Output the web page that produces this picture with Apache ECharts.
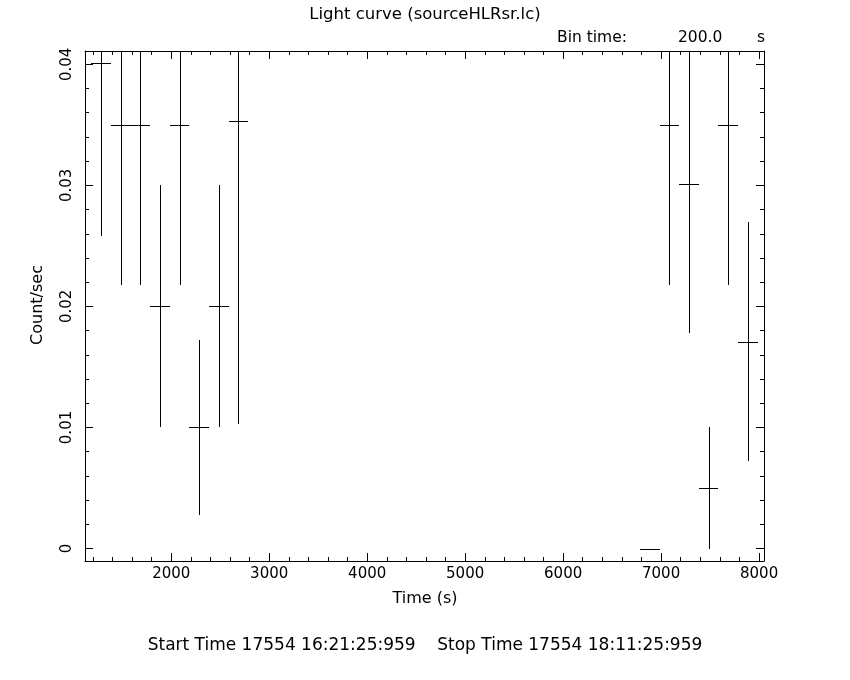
<!DOCTYPE html>
<html>
<head>
<meta charset="utf-8">
<script src="https://cdn.jsdelivr.net/npm/echarts@6/dist/echarts.min.js"></script>
<style>
  html, body { margin: 0; padding: 0; background: #fff; }
  #chart { width: 850px; height: 680px; }
</style>
</head>
<body>
<div id="chart"></div>
<script>
// ---- data ----
const binTime = 200;
const times = [1285, 1485, 1685, 1885, 2085, 2285, 2485, 2685, 6885, 7085, 7285, 7485, 7685, 7885];
const rates = [0.0401, 0.0350, 0.0350, 0.0200, 0.0350, 0.0100, 0.0200, 0.0353, 0.0, 0.0350, 0.0301, 0.0050, 0.0350, 0.0171];
const errors = [0.0143, 0.0132, 0.0132, 0.0100, 0.0132, 0.0072, 0.0100, 0.0250, 0.0, 0.0132, 0.0123, 0.0050, 0.0132, 0.0099];
const xMajorTicks = [2000, 3000, 4000, 5000, 6000, 7000, 8000];
const yMajorTicks = [0, 0.01, 0.02, 0.03, 0.04];
const titleText = 'Light curve (sourceHLRsr.lc)';
const xLabel = 'Time (s)';
const yLabel = 'Count/sec';
const footerText = 'Start Time 17554 16:21:25:959    Stop Time 17554 18:11:25:959';

// minor tick positions (axis decoration)
const xMinorTicks = [];
for (let v = 1200; v <= 8000; v += 200) if (v % 1000 !== 0) xMinorTicks.push(v);
const yMinorTicks = [];
for (let i = 1; i <= 20; i++) if (i % 5 !== 0) yMinorTicks.push(+(i * 0.002).toFixed(3));

const FONT = 'DejaVu Sans';
const data = times.map((t, i) => [t, rates[i], errors[i]]);

const lineStyle = { color: '#000', width: 1 };
function xAxisDef(pos, ticks, len, showLine, showLabel) {
  return {
    type: 'value', position: pos, min: 1120, max: 8050, gridIndex: 0,
    axisLine: { show: showLine, onZero: false, lineStyle },
    axisTick: { show: true, inside: true, length: len, customValues: ticks, lineStyle },
    axisLabel: showLabel ? { show: true, customValues: ticks, color: '#000', fontFamily: FONT, fontSize: 15, margin: 6,
      formatter: v => String(v) } : { show: false },
    splitLine: { show: false }
  };
}
function yAxisDef(pos, ticks, len, showLine, showLabel) {
  return {
    type: 'value', position: pos, min: -0.00103, max: 0.0411, gridIndex: 0,
    axisLine: { show: showLine, onZero: false, lineStyle },
    axisTick: { show: true, inside: true, length: len, customValues: ticks, lineStyle },
    axisLabel: showLabel ? { show: true, customValues: ticks, rotate: 90, color: '#000', fontFamily: FONT, fontSize: 15, margin: 10,
      formatter: v => (v === 0 ? '0' : String(+v.toFixed(3))) } : { show: false },
    splitLine: { show: false }
  };
}

const chart = echarts.init(document.getElementById('chart'), null, { renderer: 'canvas' });
chart.setOption({
  animation: false,
  backgroundColor: '#fff',
  grid: { left: 85, top: 51, right: 86, bottom: 119, containLabel: false },
  xAxis: [
    xAxisDef('bottom', xMajorTicks, 8, true, true),
    xAxisDef('bottom', xMinorTicks, 4, false, false),
    xAxisDef('top', xMajorTicks, 8, true, false),
    xAxisDef('top', xMinorTicks, 4, false, false)
  ],
  yAxis: [
    yAxisDef('left', yMajorTicks, 8, true, true),
    yAxisDef('left', yMinorTicks, 4, false, false),
    yAxisDef('right', yMajorTicks, 8, true, false),
    yAxisDef('right', yMinorTicks, 4, false, false)
  ],
  series: [{
    type: 'custom',
    xAxisIndex: 0, yAxisIndex: 0,
    data: data,
    renderItem: function (params, api) {
      const x = api.value(0), y = api.value(1), e = api.value(2);
      const cs = params.coordSys;
      const l = api.coord([x - binTime / 2, y]);
      const r = api.coord([x + binTime / 2, y]);
      const t = api.coord([x, y + e]);
      const b = api.coord([x, y - e]);
      const px = Math.round(t[0]) + 0.5;
      const py = Math.round(l[1]) + 0.5;
      const top = Math.max(t[1], cs.y);
      const bot = Math.min(b[1], cs.y + cs.height);
      const children = [{
        type: 'line',
        shape: { x1: Math.round(l[0]), y1: py, x2: Math.round(r[0]), y2: py },
        style: { stroke: '#000', lineWidth: 1 }
      }];
      if (e > 0) {
        children.push({
          type: 'line',
          shape: { x1: px, y1: Math.round(top), x2: px, y2: Math.round(bot) },
          style: { stroke: '#000', lineWidth: 1 }
        });
      }
      return { type: 'group', children };
    }
  }],
  graphic: [
    { type: 'text', style: { x: 425, y: 15, text: titleText, textAlign: 'center', textVerticalAlign: 'middle', fill: '#000', font: '16.5px "DejaVu Sans"' } },
    { type: 'text', style: { x: 557, y: 38, text: 'Bin time:', textAlign: 'left', textVerticalAlign: 'middle', fill: '#000', font: '15.5px "DejaVu Sans"' } },
    { type: 'text', style: { x: 678, y: 38, text: binTime.toFixed(1), textAlign: 'left', textVerticalAlign: 'middle', fill: '#000', font: '15.5px "DejaVu Sans"' } },
    { type: 'text', style: { x: 757, y: 38, text: 's', textAlign: 'left', textVerticalAlign: 'middle', fill: '#000', font: '15.5px "DejaVu Sans"' } },
    { type: 'text', style: { x: 425, y: 599, text: xLabel, textAlign: 'center', textVerticalAlign: 'middle', fill: '#000', font: '16px "DejaVu Sans"' } },
    { type: 'text', x: 38, y: 305, rotation: Math.PI / 2, style: { x: 0, y: 0, text: yLabel, textAlign: 'center', textVerticalAlign: 'middle', fill: '#000', font: '16px "DejaVu Sans"' } },
    { type: 'text', style: { x: 425, y: 646, text: footerText, textAlign: 'center', textVerticalAlign: 'middle', fill: '#000', font: '17px "DejaVu Sans"' } }
  ]
});
</script>
</body>
</html>
